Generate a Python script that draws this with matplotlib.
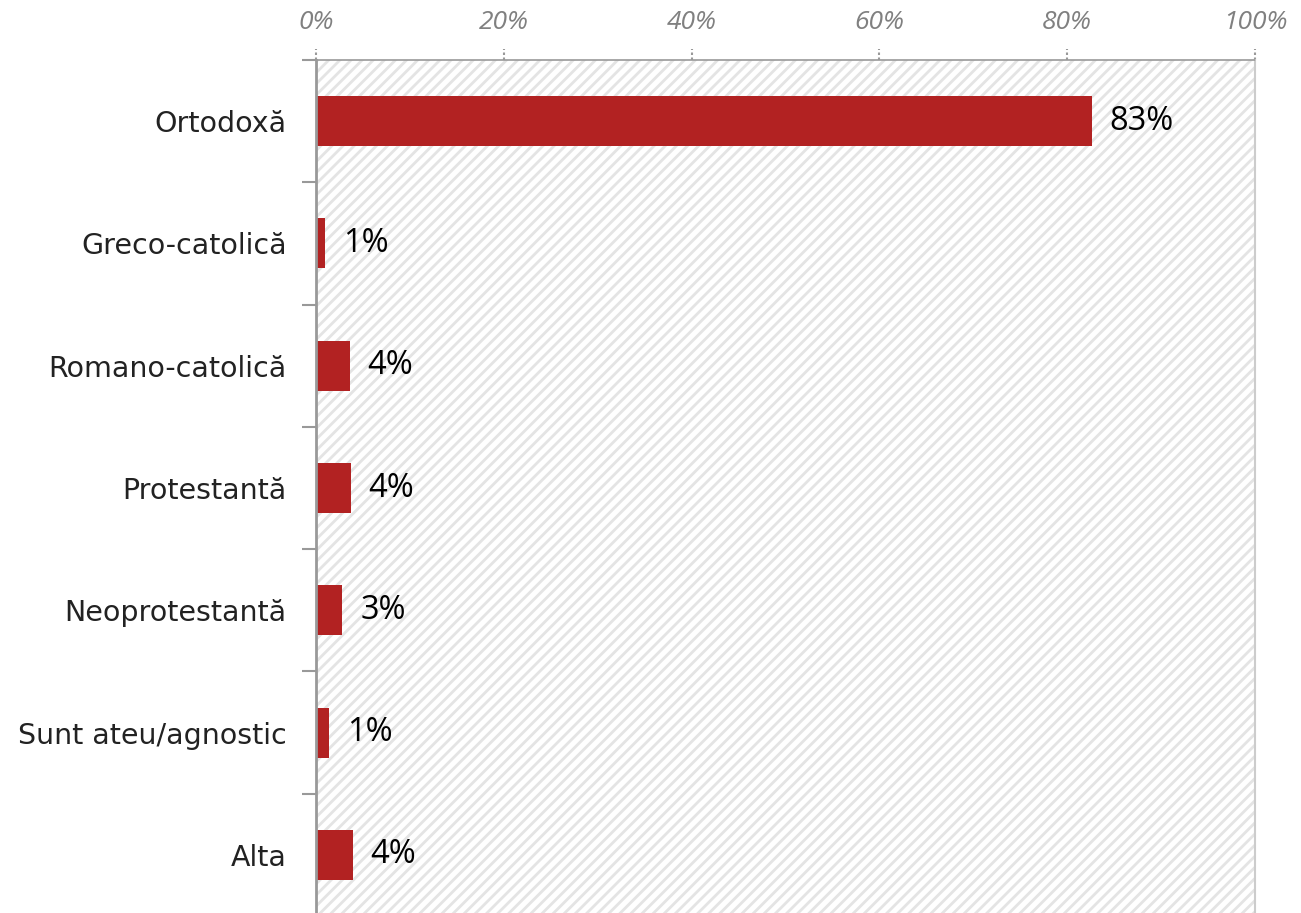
import matplotlib
matplotlib.use("Agg")
import matplotlib.pyplot as plt
from matplotlib.patches import Rectangle
from matplotlib.ticker import FixedLocator
from matplotlib.transforms import blended_transform_factory

categories = ["Ortodoxă", "Greco-catolică", "Romano-catolică", "Protestantă",
              "Neoprotestantă", "Sunt ateu/agnostic", "Alta"]
values = [82.6, 1.0, 3.6, 3.7, 2.8, 1.4, 3.9]
value_labels = ["83%", "1%", "4%", "4%", "3%", "1%", "4%"]
x_ticks = [0, 20, 40, 60, 80, 100]
x_tick_labels = ["0%", "20%", "40%", "60%", "80%", "100%"]

plt.rcParams["hatch.color"] = "#e4e4e4"
plt.rcParams["hatch.linewidth"] = 2.0

fig = plt.figure(figsize=(13.01, 9.13), dpi=100)
ax = fig.add_axes([316 / 1301, -3 / 913, (1255 - 316) / 1301, (916 - 60) / 913])

# hatched background
ax.add_patch(Rectangle((0, 0), 1, 1, transform=ax.transAxes, facecolor="white",
                       hatch="///", edgecolor="#e4e4e4", linewidth=0, zorder=0))

y = list(range(len(categories)))
ax.barh(y, values, height=0.41, color="#b22222", zorder=2)
for yi, v, lab in zip(y, values, value_labels):
    ax.text(v + 1.9, yi, lab, va="center", ha="left", fontsize=23.5,
            family="Open Sans", color="black", zorder=3)

ax.set_xlim(0, 100)
ax.set_ylim(len(categories) - 0.5, -0.5)

ax.xaxis.tick_top()
ax.set_xticks(x_ticks)
ax.set_xticklabels(x_tick_labels, fontsize=19, style="italic", color="#808080",
                   family="Open Sans")
ax.tick_params(axis="x", length=0, pad=18)
# dotted tick marks on top
trans = blended_transform_factory(ax.transData, ax.transAxes)
ax.vlines(x_ticks, 1.0, 1.013, transform=trans, colors="#999999",
          linestyles=(0, (1.2, 1.2)), linewidth=1.5, clip_on=False)

ax.set_yticks(y)
ax.set_yticklabels(categories, fontsize=20.5, color="#222222", family="DejaVu Sans")
ax.tick_params(axis="y", which="major", length=0, pad=21)
ax.yaxis.set_minor_locator(FixedLocator([i + 0.5 for i in range(len(categories) - 1)] + [-0.5]))
ax.tick_params(axis="y", which="minor", length=10, width=1.5, color="#999999")

ax.spines["top"].set_color("#999999")
ax.spines["top"].set_linestyle((0, (1, 1)))
ax.spines["top"].set_linewidth(1.2)
ax.spines["left"].set_color("#999999")
ax.spines["left"].set_linewidth(2)
ax.spines["right"].set_color("#cccccc")
ax.spines["right"].set_linewidth(1.5)
ax.spines["bottom"].set_visible(False)

fig.savefig("out.png", dpi=100)
